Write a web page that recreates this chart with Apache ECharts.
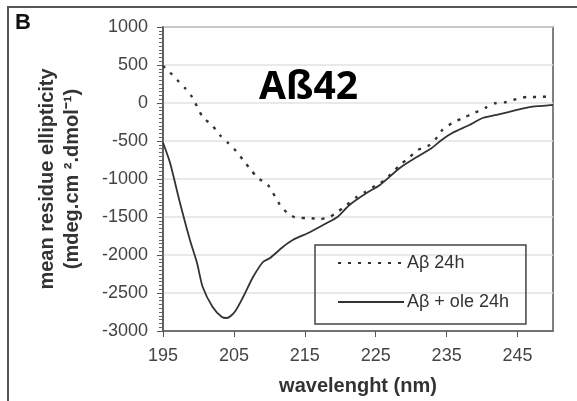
<!DOCTYPE html>
<html>
<head>
<meta charset="utf-8">
<script src="https://cdn.jsdelivr.net/npm/echarts@6/dist/echarts.min.js"></script>
<style>
  html, body { margin: 0; padding: 0; background: #fff; }
  #chart { width: 577px; height: 401px; }
</style>
</head>
<body>
<div id="chart"></div>
<script>
// values
var abWave = [195, 196, 197, 198.1, 199.1, 200.6, 201.9, 203, 204.2, 205.3, 206.3, 207.3, 208.4, 209.8, 211.5, 212.6, 213.9, 215.4, 217.1, 218.5, 219.6, 220.9, 222.3, 223.5, 225.1, 226.3, 228.4, 229.8, 230.9, 232.6, 233.7, 234.4, 235.8, 237.3, 238.9, 240.4, 242, 243.5, 244.9, 246.4, 248.1, 250];
var abVals = [490, 400, 303, 197, 79, -184, -290, -421, -527, -632, -750, -869, -987, -1079, -1342, -1450, -1513, -1513, -1527, -1500, -1435, -1342, -1237, -1171, -1079, -1013, -816, -711, -619, -553, -447, -355, -263, -197, -132, -66, 0, 13, 53, 79, 79, 95];

var oleWave = [195, 196, 197.4, 198.8, 199.8, 200.6, 202, 203.3, 204, 205.1, 206.3, 207.7, 209.1, 210.1, 211.9, 213.3, 215.7, 218.1, 219.6, 221.3, 223.7, 225.6, 228.4, 230.8, 232.9, 234.3, 235.8, 238.2, 240.1, 242.5, 244.9, 246.7, 248.1, 250];
var oleVals = [-520, -790, -1316, -1803, -2106, -2421, -2684, -2816, -2829, -2750, -2553, -2290, -2092, -2040, -1895, -1803, -1700, -1580, -1500, -1342, -1185, -1079, -855, -711, -592, -487, -395, -290, -197, -145, -92, -53, -40, -26];

var xTicks = [195, 205, 215, 225, 235, 245];
var seriesNames = ['Aβ 24h', 'Aβ + ole 24h'];

function pairs(xs, ys) {
    return xs.map(function (x, i) { return [x, ys[i]]; });
}

var myChart = echarts.init(document.getElementById('chart'));

var option = {
    backgroundColor: '#fff',
    animation: false,
    textStyle: { fontFamily: 'Liberation Sans, Arial, sans-serif' },
    grid: {
        left: 163, top: 27, right: 24, bottom: 70,
        show: true,
        borderColor: '#555',
        borderWidth: 1.5
    },
    legend: {
        data: seriesNames,
        orient: 'vertical',
        left: 315,
        top: 245,
        itemWidth: 66,
        itemHeight: 14,
        itemGap: 21,
        padding: [9, 17, 13, 22],
        borderColor: '#444',
        borderWidth: 1.5,
        itemStyle: { opacity: 0 },
        textStyle: { fontSize: 18, color: '#333', padding: [0, 0, 0, -2] }
    },
    xAxis: {
        type: 'value',
        min: 195,
        max: 250,
        name: 'wavelenght (nm)',
        nameLocation: 'middle',
        nameGap: 45,
        nameTextStyle: { fontSize: 20, fontWeight: 'bold', color: '#333' },
        axisLine: { onZero: false, lineStyle: { color: '#555', width: 1.5 } },
        axisTick: { show: true, customValues: xTicks, length: 6, lineStyle: { color: '#555' } },
        axisLabel: { customValues: xTicks, fontSize: 18, color: '#444', margin: 16 },
        splitLine: { show: false }
    },
    yAxis: {
        type: 'value',
        min: -3000,
        max: 1000,
        interval: 500,
        name: 'mean residue ellipticity\n(mdeg.cm ².dmol⁻¹)',
        nameLocation: 'middle',
        nameGap: 78,
        nameTextStyle: { fontSize: 20, fontWeight: 'bold', color: '#333', lineHeight: 25 },
        axisLine: { show: true, lineStyle: { color: '#555', width: 1.5 } },
        axisTick: { show: true, length: 6, lineStyle: { color: '#555' } },
        minorTick: { show: true, splitNumber: 10, length: 4, lineStyle: { color: '#666' } },
        axisLabel: {
            fontSize: 18, color: '#444', margin: 15,
            formatter: function (v) { return String(v); }
        },
        splitLine: { show: true, lineStyle: { color: '#e2e2e2', width: 1.5 } }
    },
    series: [
        {
            name: seriesNames[0],
            type: 'line',
            data: pairs(abWave, abVals),
            smooth: 0.25,
            showSymbol: false,
            symbol: 'none',
            lineStyle: { color: '#333', width: 2.4, type: [3, 7] },
            itemStyle: { color: '#333' }
        },
        {
            name: seriesNames[1],
            type: 'line',
            data: pairs(oleWave, oleVals),
            smooth: 0.25,
            showSymbol: false,
            symbol: 'none',
            lineStyle: { color: '#333', width: 1.8 },
            itemStyle: { color: '#333' }
        }
    ],
    graphic: [
        {
            type: 'rect',
            shape: { x: 8, y: 7, width: 640, height: 460 },
            style: { fill: null, stroke: '#555', lineWidth: 2 },
            silent: true
        },
        {
            type: 'text',
            left: 15, top: 12,
            style: { text: 'B', font: 'bold 22px "Liberation Sans", Arial', fill: '#111' }
        },
        {
            type: 'text',
            left: 259, top: 68,
            style: { text: 'Aß42', font: 'bold 39px "Noto Sans", sans-serif', fill: '#000' }
        }
    ]
};

myChart.setOption(option);
window.onresize = function () {
    myChart.resize();
};
</script>
</body>
</html>
